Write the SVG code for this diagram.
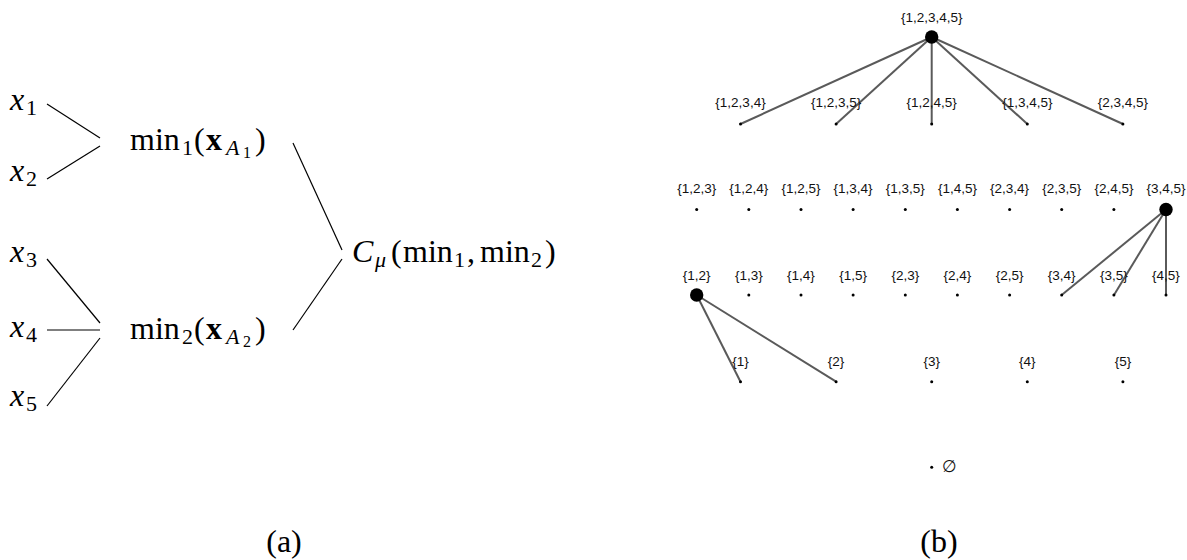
<svg xmlns="http://www.w3.org/2000/svg" width="1187" height="560" viewBox="0 0 1187 560">
<style>
.m{font-family:"Liberation Serif","DejaVu Serif",serif;font-size:32px;fill:#000}
.it{font-style:italic}
.bf{font-weight:bold}
.s{font-size:22px}
.ss{font-size:16px}
.la{stroke:#000;stroke-width:1.2;fill:none}
.lab{font-family:"Liberation Sans","DejaVu Sans",sans-serif;font-size:13.5px;fill:#111;text-anchor:middle}
.e{stroke:#5a5a5a;stroke-width:2;fill:none}
.d{fill:#000}
</style>
<rect width="1187" height="560" fill="#fff"/>
<g id="panel-a">
<g id="connectors-a">
<line class="la" x1="47" y1="104" x2="100" y2="138"/>
<line class="la" x1="100" y1="146" x2="47" y2="179"/>
<line class="la" x1="47" y1="259" x2="100" y2="323"/>
<line class="la" x1="47" y1="330" x2="100" y2="330"/>
<line class="la" x1="100" y1="338" x2="47" y2="406"/>
<line class="la" x1="293" y1="143" x2="342" y2="250"/>
<line class="la" x1="342" y1="259" x2="293" y2="330"/>
</g>
<g id="x1"><text class="m" y="110"><tspan x="10" class="it">x</tspan><tspan x="26" y="115" class="s">1</tspan></text></g>
<g id="x2"><text class="m" y="181"><tspan x="10" class="it">x</tspan><tspan x="26" y="186" class="s">2</tspan></text></g>
<g id="x3"><text class="m" y="262"><tspan x="10" class="it">x</tspan><tspan x="26" y="267" class="s">3</tspan></text></g>
<g id="x4"><text class="m" y="337"><tspan x="10" class="it">x</tspan><tspan x="26" y="342" class="s">4</tspan></text></g>
<g id="x5"><text class="m" y="406"><tspan x="10" class="it">x</tspan><tspan x="26" y="411" class="s">5</tspan></text></g>
<g id="min1"><text class="m" y="150"><tspan x="130">min</tspan><tspan x="182" y="155" class="s">1</tspan><tspan x="194" y="150">(</tspan><tspan x="206" class="bf">x</tspan><tspan x="226" y="155" class="s it">A</tspan><tspan x="243" y="158" class="ss">1</tspan><tspan x="255" y="150">)</tspan></text></g>
<g id="min2"><text class="m" y="339"><tspan x="130">min</tspan><tspan x="182" y="344" class="s">2</tspan><tspan x="194" y="339">(</tspan><tspan x="206" class="bf">x</tspan><tspan x="226" y="344" class="s it">A</tspan><tspan x="243" y="347" class="ss">2</tspan><tspan x="255" y="339">)</tspan></text></g>
<g id="cmu"><text class="m" y="262"><tspan x="352" class="it">C</tspan><tspan x="375" y="267" class="s it">μ</tspan><tspan x="391" y="262">(</tspan><tspan x="403">min</tspan><tspan x="454" y="267" class="s">1</tspan><tspan x="467" y="262">,</tspan><tspan x="480">min</tspan><tspan x="531" y="267" class="s">2</tspan><tspan x="545" y="262">)</tspan></text></g>
<text class="m" x="284" y="552" text-anchor="middle">(a)</text>
</g>
<g id="panel-b">
<g id="connectors-b">
<line class="e" x1="931.7" y1="37" x2="740.5" y2="124"/>
<line class="e" x1="931.7" y1="37" x2="836.1" y2="124"/>
<line class="e" x1="931.7" y1="37" x2="931.7" y2="124"/>
<line class="e" x1="931.7" y1="37" x2="1027.3" y2="124"/>
<line class="e" x1="931.7" y1="37" x2="1122.9" y2="124"/>
<line class="e" x1="1166" y1="209.5" x2="1061.7" y2="295"/>
<line class="e" x1="1166" y1="209.5" x2="1114" y2="295"/>
<line class="e" x1="1166" y1="209.5" x2="1166" y2="295"/>
<line class="e" x1="696.7" y1="295" x2="740.5" y2="381.7"/>
<line class="e" x1="696.7" y1="295" x2="836.1" y2="381.7"/>
</g>
<g id="n12345"><text class="lab" x="931.7" y="22">{1,2,3,4,5}</text><circle class="d" cx="931.7" cy="37" r="6.7"/></g>
<g id="n1234"><text class="lab" x="740.5" y="106.5">{1,2,3,4}</text><circle class="d" cx="740.5" cy="124" r="1.5"/></g>
<g id="n1235"><text class="lab" x="836.1" y="106.5">{1,2,3,5}</text><circle class="d" cx="836.1" cy="124" r="1.5"/></g>
<g id="n1245"><text class="lab" x="931.7" y="106.5">{1,2,4,5}</text><circle class="d" cx="931.7" cy="124" r="1.5"/></g>
<g id="n1345"><text class="lab" x="1027.3" y="106.5">{1,3,4,5}</text><circle class="d" cx="1027.3" cy="124" r="1.5"/></g>
<g id="n2345"><text class="lab" x="1122.9" y="106.5">{2,3,4,5}</text><circle class="d" cx="1122.9" cy="124" r="1.5"/></g>
<g id="n123"><text class="lab" x="696.7" y="193">{1,2,3}</text><circle class="d" cx="696.7" cy="209.5" r="1.5"/></g>
<g id="n124"><text class="lab" x="748.8" y="193">{1,2,4}</text><circle class="d" cx="748.8" cy="209.5" r="1.5"/></g>
<g id="n125"><text class="lab" x="801" y="193">{1,2,5}</text><circle class="d" cx="801" cy="209.5" r="1.5"/></g>
<g id="n134"><text class="lab" x="853.1" y="193">{1,3,4}</text><circle class="d" cx="853.1" cy="209.5" r="1.5"/></g>
<g id="n135"><text class="lab" x="905.3" y="193">{1,3,5}</text><circle class="d" cx="905.3" cy="209.5" r="1.5"/></g>
<g id="n145"><text class="lab" x="957.4" y="193">{1,4,5}</text><circle class="d" cx="957.4" cy="209.5" r="1.5"/></g>
<g id="n234"><text class="lab" x="1009.6" y="193">{2,3,4}</text><circle class="d" cx="1009.6" cy="209.5" r="1.5"/></g>
<g id="n235"><text class="lab" x="1061.7" y="193">{2,3,5}</text><circle class="d" cx="1061.7" cy="209.5" r="1.5"/></g>
<g id="n245"><text class="lab" x="1113.9" y="193">{2,4,5}</text><circle class="d" cx="1113.9" cy="209.5" r="1.5"/></g>
<g id="n345"><text class="lab" x="1166" y="193">{3,4,5}</text><circle class="d" cx="1166" cy="209.5" r="6.7"/></g>
<g id="n12"><text class="lab" x="696.7" y="280">{1,2}</text><circle class="d" cx="696.7" cy="295" r="6.7"/></g>
<g id="n13"><text class="lab" x="748.8" y="280">{1,3}</text><circle class="d" cx="748.8" cy="295" r="1.5"/></g>
<g id="n14"><text class="lab" x="801" y="280">{1,4}</text><circle class="d" cx="801" cy="295" r="1.5"/></g>
<g id="n15"><text class="lab" x="853.1" y="280">{1,5}</text><circle class="d" cx="853.1" cy="295" r="1.5"/></g>
<g id="n23"><text class="lab" x="905.3" y="280">{2,3}</text><circle class="d" cx="905.3" cy="295" r="1.5"/></g>
<g id="n24"><text class="lab" x="957.4" y="280">{2,4}</text><circle class="d" cx="957.4" cy="295" r="1.5"/></g>
<g id="n25"><text class="lab" x="1009.6" y="280">{2,5}</text><circle class="d" cx="1009.6" cy="295" r="1.5"/></g>
<g id="n34"><text class="lab" x="1061.7" y="280">{3,4}</text><circle class="d" cx="1061.7" cy="295" r="1.5"/></g>
<g id="n35"><text class="lab" x="1113.9" y="280">{3,5}</text><circle class="d" cx="1113.9" cy="295" r="1.5"/></g>
<g id="n45"><text class="lab" x="1166" y="280">{4,5}</text><circle class="d" cx="1166" cy="295" r="1.5"/></g>
<g id="n1"><text class="lab" x="740.5" y="366">{1}</text><circle class="d" cx="740.5" cy="381.7" r="1.5"/></g>
<g id="n2"><text class="lab" x="836.1" y="366">{2}</text><circle class="d" cx="836.1" cy="381.7" r="1.5"/></g>
<g id="n3"><text class="lab" x="931.7" y="366">{3}</text><circle class="d" cx="931.7" cy="381.7" r="1.5"/></g>
<g id="n4"><text class="lab" x="1027.3" y="366">{4}</text><circle class="d" cx="1027.3" cy="381.7" r="1.5"/></g>
<g id="n5"><text class="lab" x="1122.9" y="366">{5}</text><circle class="d" cx="1122.9" cy="381.7" r="1.5"/></g>
<g id="nempty"><circle class="d" cx="931.7" cy="467.3" r="1.5"/><text x="942" y="472" style="font-family:'DejaVu Sans','Liberation Sans',sans-serif;font-size:17px;fill:#111">∅</text></g>
<text class="m" x="939" y="552" text-anchor="middle">(b)</text>
</g>
</svg>
